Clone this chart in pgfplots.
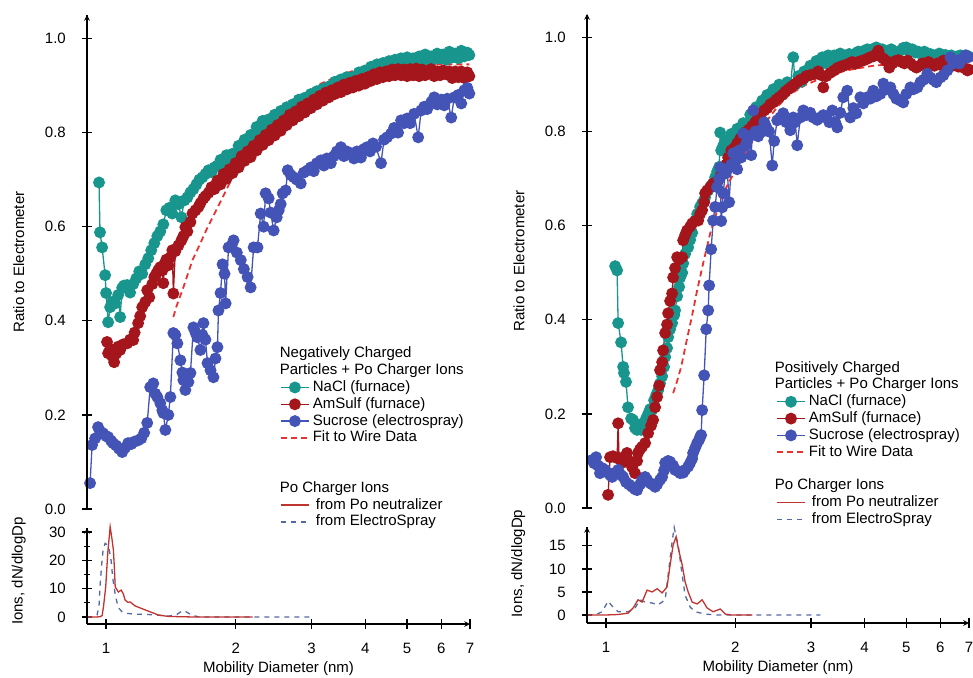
\documentclass[border=0pt]{standalone}
\usepackage{pgfplots}
\pgfplotsset{compat=1.18}
\usepackage{fontspec}
\setmainfont{Liberation Sans}
\definecolor{cNaCl}{RGB}{24,150,142}
\definecolor{cAm}{RGB}{165,22,28}
\definecolor{cSuc}{RGB}{68,84,182}
\definecolor{cFit}{RGB}{232,50,50}
\definecolor{cPo}{RGB}{192,52,48}
\definecolor{cES}{RGB}{85,105,160}
\tikzset{
 naclser/.style={cNaCl, line width=1.3pt, mark=*, mark size=5.3pt, mark options={solid, fill=cNaCl, draw=cNaCl}},
 amser/.style={cAm, line width=1.3pt, mark=*, mark size=5.3pt, mark options={solid, fill=cAm, draw=cAm}},
 sucser/.style={cSuc, line width=1.3pt, mark=*, mark size=5.3pt, mark options={solid, fill=cSuc, draw=cSuc}},
 fitline/.style={cFit, line width=1.8pt, dash pattern=on 6pt off 4pt, mark=none},
 poline/.style={cPo, line width=1.3pt, mark=none},
 esline/.style={cES, line width=1.3pt, dash pattern=on 5pt off 5pt, mark=none},
 frameline/.style={black, line width=1.5pt},
}
\pgfplotsset{
 legend image code/.code={\draw[mark repeat=2,mark phase=2,#1] plot coordinates {(0pt,0pt)(14pt,0pt)(28pt,0pt)};},
 every axis/.append style={
  scale only axis, xmode=log, xmin=0.903, xmax=7.0, clip=false,
  axis line style={-, line width=1.5pt, black},
  tick align=outside, major tick length=10pt, minor tick length=6pt,
  every tick/.append style={black, line width=1.2pt},
  font=\fontsize{15}{17}\selectfont,
  yticklabel style={xshift=-11pt},
  xticklabel style={yshift=-9pt},
  legend cell align=left,
  legend style={draw=none, fill=none, inner sep=0pt, outer sep=0pt, row sep=0pt, column sep=3pt,
    font=\fontsize{15}{17}\selectfont,
    nodes={inner xsep=0pt, inner ysep=1.4pt, text height=11pt, text depth=3pt}},
 },
 every axis y label/.style={at={(axis description cs:-0.178,0.5)}, rotate=90, anchor=center},
 every axis x label/.style={at={(axis description cs:0.5,0)}, anchor=center, yshift=-45pt},
}
\begin{document}
\fontsize{15}{17}\selectfont
\begin{tikzpicture}[x=1pt,y=1pt]
\path[use as bounding box] (0,0) rectangle (973,677);

% ---------------- left top ----------------
\begin{axis}[at={(87pt,168pt)}, anchor=south west, width=383pt, height=494pt,
  ymin=0, ymax=1.05, axis y line=left, axis x line=none,
  ytick={0,0.2,0.4,0.6,0.8,1.0}, yticklabels={0.0,0.2,0.4,0.6,0.8,1.0},
  ylabel={Ratio to Electrometer},
  legend style={at={(axis description cs:0.504,0.331)}, anchor=north west}]
\addlegendimage{empty legend}\addlegendentry{\hspace*{-33pt}Negatively Charged}
\addlegendimage{empty legend}\addlegendentry{\hspace*{-33pt}Particles + Po Charger Ions}
\addplot[naclser] coordinates {(.963,.694) (.968,.588) (.979,.556) (.995,.497) (1.000,.459) (1.011,.397) (1.022,.429) (1.033,.44) (1.050,.437) (1.067,.455) (1.078,.408) (1.090,.47) (1.101,.475) (1.119,.476) (1.137,.46) (1.156,.478) (1.175,.49) (1.194,.505) (1.213,.5) (1.233,.52) (1.253,.533) (1.273,.55) (1.294,.565) (1.315,.58) (1.336,.59) (1.358,.605) (1.380,.635) (1.402,.64) (1.425,.628) (1.448,.656) (1.472,.648) (1.496,.62) (1.520,.656) (1.544,.662) (1.570,.673) (1.595,.68) (1.621,.69) (1.647,.7) (1.674,.705) (1.701,.712) (1.729,.72) (1.757,.716) (1.785,.726) (1.814,.73) (1.844,.742) (1.874,.732) (1.904,.752) (1.935,.738) (1.966,.755) (1.998,.748) (2.031,.772) (2.064,.762) (2.097,.785) (2.131,.776) (2.166,.795) (2.201,.788) (2.236,.812) (2.273,.803) (2.310,.825) (2.347,.818) (2.385,.828) (2.424,.818) (2.463,.838) (2.503,.828) (2.544,.846) (2.585,.836) (2.627,.854) (2.670,.844) (2.713,.86) (2.757,.852) (2.802,.87) (2.847,.858) (2.893,.874) (2.940,.866) (2.988,.882) (3.036,.872) (3.086,.888) (3.136,.878) (3.187,.893) (3.238,.886) (3.291,.898) (3.344,.892) (3.398,.908) (3.454,.898) (3.510,.913) (3.567,.902) (3.624,.918) (3.683,.908) (3.743,.918) (3.804,.912) (3.865,.928) (3.928,.918) (3.992,.932) (4.057,.924) (4.122,.94) (4.189,.928) (4.257,.945) (4.326,.934) (4.397,.948) (4.468,.94) (4.540,.952) (4.614,.942) (4.689,.955) (4.765,.944) (4.842,.958) (4.921,.946) (5.001,.96) (5.082,.948) (5.164,.958) (5.248,.95) (5.333,.962) (5.420,.952) (5.508,.966) (5.597,.95) (5.688,.962) (5.780,.956) (5.874,.968) (5.969,.958) (6.066,.966) (6.165,.955) (6.265,.972) (6.366,.96) (6.470,.968) (6.575,.958) (6.681,.974) (6.790,.962) (6.900,.97) (6.975,.965)};
\addlegendentry{NaCl (furnace)}
\addplot[amser] coordinates {(1.005,.355) (1.011,.331) (1.022,.34) (1.033,.325) (1.044,.312) (1.055,.33) (1.067,.345) (1.078,.338) (1.096,.35) (1.119,.352) (1.137,.36) (1.156,.359) (1.165,.375) (1.187,.395) (1.200,.41) (1.213,.429) (1.233,.44) (1.246,.465) (1.26,.45) (1.280,.478) (1.294,.493) (1.308,.5) (1.322,.508) (1.336,.514) (1.351,.507) (1.358,.48) (1.365,.52) (1.380,.53) (1.395,.518) (1.410,.535) (1.425,.55) (1.433,.458) (1.448,.548) (1.472,.56) (1.496,.571) (1.512,.58) (1.528,.599) (1.544,.59) (1.570,.61) (1.587,.628) (1.613,.635) (1.639,.642) (1.656,.65) (1.683,.66) (1.701,.665) (1.729,.672) (1.757,.684) (1.785,.68) (1.814,.698) (1.844,.69) (1.874,.712) (1.904,.702) (1.935,.722) (1.966,.714) (1.998,.735) (2.031,.726) (2.064,.75) (2.097,.74) (2.131,.76) (2.166,.748) (2.201,.772) (2.236,.762) (2.273,.784) (2.310,.774) (2.347,.795) (2.385,.784) (2.424,.806) (2.463,.794) (2.503,.816) (2.544,.804) (2.585,.826) (2.627,.816) (2.670,.838) (2.713,.826) (2.757,.845) (2.802,.835) (2.847,.855) (2.893,.843) (2.940,.862) (2.988,.852) (3.036,.87) (3.086,.86) (3.136,.878) (3.187,.868) (3.238,.885) (3.291,.875) (3.344,.89) (3.398,.882) (3.454,.896) (3.510,.886) (3.567,.902) (3.624,.892) (3.683,.906) (3.743,.896) (3.804,.91) (3.865,.9) (3.928,.914) (3.992,.904) (4.057,.918) (4.122,.91) (4.189,.924) (4.257,.914) (4.326,.928) (4.397,.918) (4.468,.93) (4.540,.92) (4.614,.934) (4.689,.922) (4.765,.935) (4.842,.922) (4.921,.934) (5.001,.92) (5.082,.935) (5.164,.922) (5.248,.936) (5.333,.92) (5.420,.934) (5.508,.922) (5.597,.93) (5.688,.935) (5.780,.92) (5.874,.93) (5.969,.922) (6.066,.932) (6.165,.924) (6.265,.93) (6.366,.916) (6.470,.93) (6.575,.918) (6.681,.93) (6.790,.916) (6.900,.928) (6.975,.92)};
\addlegendentry{AmSulf (furnace)}
\addplot[sucser] coordinates {(.918,.055) (.928,.136) (.943,.15) (.958,.174) (.968,.165) (.984,.161) (1.0,.155) (1.011,.153) (1.027,.145) (1.038,.14) (1.055,.135) (1.072,.128) (1.090,.121) (1.107,.13) (1.125,.14) (1.144,.138) (1.162,.143) (1.187,.146) (1.207,.15) (1.226,.162) (1.246,.183) (1.266,.259) (1.287,.267) (1.301,.245) (1.315,.238) (1.336,.225) (1.351,.21) (1.358,.204) (1.373,.168) (1.395,.2) (1.410,.238) (1.433,.374) (1.448,.37) (1.464,.352) (1.488,.316) (1.504,.29) (1.512,.274) (1.528,.253) (1.553,.27) (1.570,.289) (1.595,.386) (1.613,.375) (1.630,.365) (1.656,.338) (1.674,.37) (1.683,.395) (1.701,.36) (1.720,.31) (1.748,.295) (1.776,.28) (1.795,.32) (1.814,.344) (1.824,.422) (1.844,.459) (1.864,.52) (1.884,.5) (1.895,.437) (1.925,.556) (1.957,.56) (1.978,.571) (2.012,.545) (2.055,.529) (2.089,.51) (2.131,.493) (2.166,.471) (2.201,.556) (2.247,.556) (2.285,.628) (2.322,.6) (2.347,.671) (2.385,.66) (2.411,.63) (2.450,.592) (2.490,.62) (2.517,.635) (2.544,.648) (2.571,.671) (2.613,.677) (2.641,.72) (2.684,.71) (2.728,.705) (2.772,.7) (2.832,.692) (2.878,.715) (2.940,.72) (2.988,.726) (3.036,.718) (3.086,.735) (3.153,.741) (3.204,.73) (3.256,.745) (3.326,.735) (3.380,.75) (3.435,.76) (3.510,.769) (3.567,.75) (3.624,.76) (3.703,.756) (3.763,.745) (3.824,.76) (3.907,.747) (3.970,.765) (4.035,.769) (4.100,.76) (4.167,.777) (4.234,.77) (4.349,.735) (4.420,.785) (4.492,.79) (4.590,.798) (4.664,.81) (4.765,.8) (4.842,.826) (4.921,.82) (5.001,.83) (5.082,.82) (5.192,.84) (5.305,.79) (5.391,.847) (5.478,.855) (5.567,.85) (5.688,.865) (5.780,.875) (5.874,.86) (6.001,.87) (6.099,.858) (6.198,.872) (6.332,.832) (6.435,.875) (6.575,.88) (6.681,.862) (6.790,.89) (6.900,.895) (6.975,.883)};
\addlegendentry{Sucrose (electrospray)}
\addplot[fitline] coordinates {(1.433,.408) (1.456,.43) (1.480,.448) (1.504,.465) (1.536,.49) (1.587,.529) (1.656,.565) (1.711,.594) (1.768,.62) (1.864,.662) (1.966,.705) (2.075,.74) (2.201,.769) (2.335,.797) (2.490,.823) (2.642,.847) (2.802,.868) (2.972,.886) (3.153,.904) (3.344,.914) (3.548,.923) (3.764,.932) (4.122,.938) (4.540,.942) (5.001,.943) (5.874,.945) (6.975,.945)};
\addlegendentry{Fit to Wire Data}
\addlegendimage{empty legend}\addlegendentry{~}
\addlegendimage{empty legend}\addlegendentry{~}
\addlegendimage{empty legend}\addlegendentry{\hspace*{-33pt}Po Charger Ions}
\addlegendimage{poline}\addlegendentry{\hspace*{3pt}from Po neutralizer}
\addlegendimage{esline}\addlegendentry{\hspace*{3pt}from ElectroSpray}
\end{axis}

% ---------------- left bottom ----------------
\begin{axis}[at={(87pt,53pt)}, anchor=south west, width=383pt, height=96pt,
  axis y line=left, axis x line=bottom,
  xtick={1,2,3,4,5,6,7}, xticklabels={1,2,3,4,5,6,7}, minor xtick={},
  xlabel={Mobility Diameter (nm)}, ylabel={Ions, dN/dlogDp},
  ymin=-2.47, ymax=31.4, ytick={0,10,20,30}, yticklabels={0,10,20,30}, minor ytick={5,15,25},
  ylabel style={at={(axis description cs:-0.178,0.55)}}]
\addplot[esline] coordinates {(0.905,0) (0.94,0) (0.953,0.7) (0.963,4) (0.968,10.6) (0.976,18) (0.984,23.6) (0.995,26) (1.005,25.5) (1.016,24) (1.027,20) (1.033,16) (1.038,13) (1.050,8) (1.061,4.9) (1.072,3) (1.090,1.8) (1.113,1.3) (1.168,1) (1.246,0.9) (1.308,0.7) (1.395,0.3) (1.456,0.8) (1.504,2.2) (1.536,1.8) (1.587,0.5) (1.639,0.1) (1.711,0) (3.04,0)};
\addplot[poline] coordinates {(0.905,0) (0.95,0) (0.968,0.1) (0.979,0.5) (0.986,3.5) (0.998,10.6) (1.009,22.6) (1.022,31.8) (1.031,28) (1.040,23.6) (1.046,16.5) (1.050,10.6) (1.068,8.8) (1.084,9.5) (1.097,8.1) (1.107,6) (1.123,5.2) (1.137,5.3) (1.168,3.9) (1.233,2.5) (1.322,0.7) (1.395,0.2) (1.6,0) (2.19,0)};
\end{axis}

% ---------------- right top ----------------
\begin{axis}[at={(587pt,169pt)}, anchor=south west, width=382pt, height=494pt,
  ymin=0, ymax=1.05, axis y line=left, axis x line=none,
  ytick={0,0.2,0.4,0.6,0.8,1.0}, yticklabels={0.0,0.2,0.4,0.6,0.8,1.0},
  ylabel={Ratio to Electrometer},
  legend style={at={(axis description cs:0.495,0.300)}, anchor=north west}]
\addlegendimage{empty legend}\addlegendentry{\hspace*{-34pt}Positively Charged}
\addlegendimage{empty legend}\addlegendentry{\hspace*{-34pt}Particles + Po Charger Ions}
\addplot[naclser] coordinates {(1.050,.514) (1.061,.505) (1.067,.393) (1.084,.352) (1.096,.3) (1.101,.287) (1.113,.268) (1.125,.214) (1.144,.19) (1.156,.187) (1.168,.17) (1.181,.166) (1.194,.175) (1.207,.166) (1.220,.18) (1.239,.19) (1.253,.2) (1.266,.21) (1.280,.208) (1.294,.229) (1.308,.24) (1.322,.25) (1.336,.265) (1.351,.28) (1.365,.3) (1.373,.321) (1.387,.34) (1.395,.363) (1.410,.38) (1.425,.393) (1.441,.41) (1.448,.42) (1.464,.45) (1.480,.47) (1.488,.49) (1.504,.5) (1.512,.52) (1.528,.54) (1.553,.554) (1.570,.57) (1.587,.585) (1.613,.611) (1.630,.625) (1.656,.64) (1.674,.648) (1.701,.66) (1.729,.675) (1.757,.685) (1.776,.69) (1.795,.703) (1.814,.715) (1.834,.725) (1.844,.798) (1.854,.76) (1.874,.77) (1.895,.781) (1.925,.775) (1.957,.795) (1.988,.786) (2.020,.806) (2.053,.798) (2.086,.818) (2.120,.81) (2.166,.836) (2.201,.828) (2.236,.852) (2.273,.842) (2.310,.866) (2.347,.856) (2.372,.878) (2.411,.87) (2.451,.89) (2.490,.88) (2.530,.9) (2.572,.888) (2.642,.905) (2.685,.895) (2.728,.958) (2.757,.9) (2.802,.918) (2.847,.906) (2.893,.928) (2.940,.918) (2.988,.94) (3.036,.93) (3.086,.95) (3.136,.94) (3.187,.958) (3.238,.946) (3.291,.962) (3.344,.948) (3.398,.962) (3.454,.95) (3.510,.966) (3.567,.955) (3.624,.958) (3.683,.965) (3.743,.962) (3.804,.966) (3.865,.97) (3.928,.968) (3.992,.972) (4.057,.975) (4.122,.97) (4.189,.976) (4.257,.979) (4.326,.972) (4.397,.975) (4.468,.97) (4.540,.968) (4.614,.975) (4.689,.97) (4.765,.968) (4.842,.972) (4.921,.978) (5.001,.979) (5.082,.972) (5.164,.975) (5.248,.968) (5.333,.97) (5.420,.965) (5.508,.97) (5.597,.96) (5.688,.965) (5.780,.962) (5.874,.958) (5.969,.966) (6.066,.96) (6.165,.963) (6.265,.958) (6.366,.962) (6.470,.955) (6.575,.96) (6.681,.962) (6.790,.958) (6.900,.962) (6.975,.96)};
\addlegendentry{NaCl (furnace)}
\addplot[amser] coordinates {(1.011,.028) (1.022,.108) (1.038,.11) (1.061,.106) (1.067,.18) (1.072,.106) (1.090,.096) (1.107,.11) (1.119,.117) (1.131,.1) (1.150,.087) (1.168,.074) (1.181,.1) (1.187,.117) (1.200,.125) (1.213,.13) (1.233,.138) (1.253,.159) (1.273,.175) (1.287,.187) (1.301,.214) (1.315,.236) (1.329,.26) (1.336,.293) (1.351,.31) (1.358,.335) (1.373,.372) (1.387,.39) (1.395,.414) (1.410,.44) (1.425,.456) (1.433,.49) (1.448,.51) (1.464,.533) (1.480,.528) (1.504,.533) (1.512,.569) (1.528,.58) (1.544,.59) (1.570,.598) (1.587,.605) (1.613,.61) (1.639,.611) (1.656,.625) (1.674,.633) (1.692,.65) (1.701,.669) (1.720,.675) (1.748,.682) (1.776,.69) (1.805,.692) (1.824,.696) (1.854,.71) (1.884,.72) (1.904,.73) (1.925,.745) (1.957,.76) (1.988,.765) (2.020,.775) (2.053,.785) (2.086,.79) (2.120,.8) (2.155,.805) (2.189,.812) (2.224,.82) (2.260,.83) (2.297,.838) (2.335,.845) (2.373,.85) (2.411,.858) (2.451,.862) (2.490,.868) (2.531,.873) (2.572,.878) (2.613,.885) (2.656,.89) (2.699,.895) (2.743,.9) (2.787,.905) (2.833,.91) (2.879,.912) (2.925,.918) (2.988,.92) (3.053,.922) (3.119,.928) (3.170,.92) (3.205,.894) (3.257,.918) (3.327,.925) (3.398,.93) (3.454,.935) (3.510,.938) (3.567,.94) (3.624,.942) (3.683,.945) (3.743,.948) (3.804,.944) (3.865,.948) (3.928,.95) (3.992,.952) (4.057,.955) (4.122,.958) (4.189,.96) (4.257,.965) (4.303,.972) (4.349,.96) (4.422,.955) (4.494,.95) (4.566,.936) (4.641,.945) (4.717,.95) (4.794,.952) (4.872,.948) (4.951,.945) (5.032,.951) (5.114,.945) (5.195,.94) (5.280,.936) (5.366,.94) (5.453,.945) (5.541,.94) (5.631,.948) (5.723,.944) (5.816,.94) (5.911,.945) (6.005,.942) (6.103,.951) (6.202,.948) (6.303,.944) (6.405,.94) (6.509,.945) (6.614,.938) (6.721,.94) (6.830,.935) (6.941,.93) (6.99,.932)};
\addlegendentry{AmSulf (furnace)}
\addplot[sucser] coordinates {(.928,.102) (.938,.095) (.948,.108) (.958,.09) (.968,.074) (.979,.085) (.995,.081) (1.011,.075) (1.022,.07) (1.033,.066) (1.050,.075) (1.067,.081) (1.084,.07) (1.096,.066) (1.113,.055) (1.131,.05) (1.150,.045) (1.168,.04) (1.181,.038) (1.200,.05) (1.213,.059) (1.233,.066) (1.246,.06) (1.266,.053) (1.280,.05) (1.301,.045) (1.315,.05) (1.336,.06) (1.351,.066) (1.365,.08) (1.373,.096) (1.395,.1) (1.410,.098) (1.433,.09) (1.448,.081) (1.472,.078) (1.488,.074) (1.512,.075) (1.528,.081) (1.553,.088) (1.570,.096) (1.587,.105) (1.595,.117) (1.613,.128) (1.630,.138) (1.647,.145) (1.656,.151) (1.665,.155) (1.674,.208) (1.692,.282) (1.711,.38) (1.729,.42) (1.738,.473) (1.757,.55) (1.776,.611) (1.795,.64) (1.814,.682) (1.834,.7) (1.844,.724) (1.854,.61) (1.864,.639) (1.874,.669) (1.895,.711) (1.915,.72) (1.935,.65) (1.957,.73) (1.978,.754) (1.998,.735) (2.020,.72) (2.042,.76) (2.064,.745) (2.086,.796) (2.108,.77) (2.131,.78) (2.155,.79) (2.178,.75) (2.201,.845) (2.224,.8) (2.260,.79) (2.285,.803) (2.310,.8) (2.335,.82) (2.360,.81) (2.398,.8) (2.437,.728) (2.463,.78) (2.503,.824) (2.544,.83) (2.585,.839) (2.627,.82) (2.685,.803) (2.728,.83) (2.757,.82) (2.787,.771) (2.833,.83) (2.879,.845) (2.925,.835) (2.988,.84) (3.036,.83) (3.102,.825) (3.153,.83) (3.205,.835) (3.257,.83) (3.309,.82) (3.363,.845) (3.417,.82) (3.454,.809) (3.510,.84) (3.567,.873) (3.644,.887) (3.704,.83) (3.764,.85) (3.826,.839) (3.909,.873) (3.972,.86) (4.057,.873) (4.122,.87) (4.189,.887) (4.257,.875) (4.352,.88) (4.422,.902) (4.494,.89) (4.592,.894) (4.666,.88) (4.740,.87) (4.842,.866) (4.921,.862) (5.001,.88) (5.112,.894) (5.195,.89) (5.308,.894) (5.394,.905) (5.481,.91) (5.597,.923) (5.688,.915) (5.780,.91) (5.874,.905) (6.005,.915) (6.103,.92) (6.232,.93) (6.336,.958) (6.439,.945) (6.542,.951) (6.648,.945) (6.756,.955) (6.865,.962) (6.975,.958)};
\addlegendentry{Sucrose (electrospray)}
\addplot[fitline] coordinates {(1.433,.244) (1.464,.27) (1.496,.3) (1.520,.33) (1.544,.36) (1.587,.41) (1.630,.463) (1.683,.52) (1.748,.584) (1.805,.625) (1.844,.654) (1.925,.69) (2.020,.724) (2.120,.76) (2.236,.79) (2.373,.824) (2.517,.855) (2.685,.88) (2.925,.9) (3.205,.915) (3.624,.93) (4.189,.94) (5.001,.946) (6.975,.948)};
\addlegendentry{Fit to Wire Data}
\addlegendimage{empty legend}\addlegendentry{~}
\addlegendimage{empty legend}\addlegendentry{\hspace*{-34pt}Po Charger Ions}
\addlegendimage{poline}\addlegendentry{\hspace*{3pt}from Po neutralizer}
\addlegendimage{esline}\addlegendentry{\hspace*{3pt}from ElectroSpray}
\end{axis}

% ---------------- right bottom ----------------
\begin{axis}[at={(587pt,54pt)}, anchor=south west, width=382pt, height=96pt,
  axis y line=left, axis x line=bottom,
  xtick={1,2,3,4,5,6,7}, xticklabels={1,2,3,4,5,6,7}, minor xtick={},
  xlabel={Mobility Diameter (nm)}, ylabel={Ions, dN/dlogDp},
  ymin=-1.74, ymax=19.1, ytick={0,5,10,15}, yticklabels={0,5,10,15},
  ylabel style={at={(axis description cs:-0.18,0.62)}}]
\addplot[esline] coordinates {(0.905,0) (0.943,0) (0.979,0.7) (1.011,3.0) (1.038,1.7) (1.067,0.7) (1.125,0.7) (1.168,1.5) (1.200,3.3) (1.233,2.8) (1.280,2.6) (1.322,2.2) (1.373,3.3) (1.395,8.7) (1.425,15.9) (1.441,19) (1.456,17) (1.472,15.2) (1.504,8.7) (1.528,4.3) (1.570,1.7) (1.613,0.7) (1.701,0.2) (1.805,0) (3.157,0)};
\addplot[poline] coordinates {(0.905,0) (1.0,0) (1.067,0.1) (1.125,0.4) (1.156,1.5) (1.187,3.3) (1.213,2.8) (1.246,5.4) (1.280,5) (1.315,5.7) (1.351,4.8) (1.387,6.1) (1.410,10.9) (1.433,15.2) (1.456,17) (1.472,14.6) (1.504,10.9) (1.528,7.2) (1.553,5) (1.587,2.8) (1.630,2.4) (1.674,3.3) (1.720,1.5) (1.776,0.7) (1.844,1.3) (1.895,0.2) (1.957,0) (2.19,0)};
\end{axis}

% vertical axis lines (frame)
\draw[frameline] (87,167.5) -- (87,662);
\draw[frameline] (87,59) -- (87,149);
\draw[frameline] (587,168.5) -- (587,662);
\draw[frameline] (587,61) -- (587,150);
\end{tikzpicture}
\end{document}
